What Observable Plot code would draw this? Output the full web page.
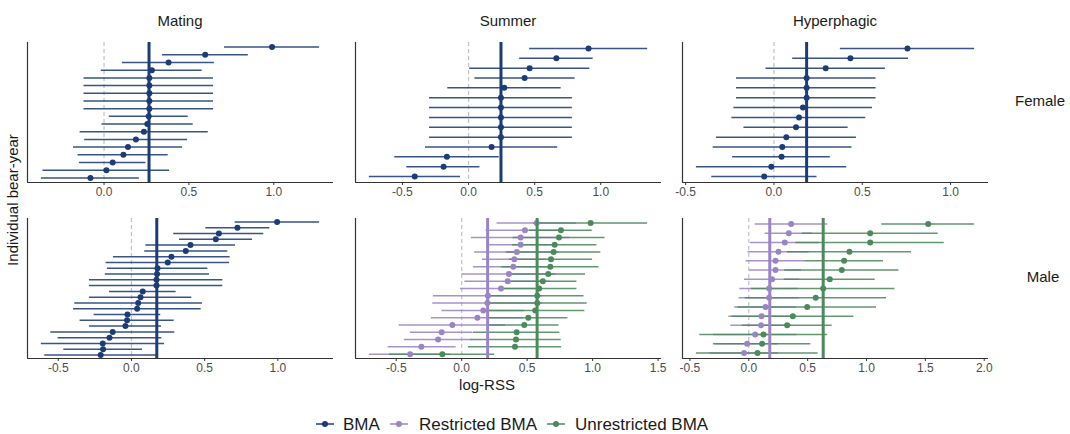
<!DOCTYPE html>
<html><head><meta charset="utf-8">
<script src="https://cdn.jsdelivr.net/npm/d3@7"></script>
<script src="https://cdn.jsdelivr.net/npm/@observablehq/plot@0.6"></script>
<style>
body{margin:0;background:#fff;font-family:"Liberation Sans",Arial,sans-serif;}
#chart{position:relative;width:1070px;height:434px;overflow:hidden;background:#fff;}
.lab{position:absolute;white-space:nowrap;color:#1a1a1a;line-height:1;}
.panel{position:absolute;}
</style></head><body><div id="chart"></div>
<script>
// ---------- data ----------
const seasons = ["Mating", "Summer", "Hyperphagic"];
const sexes = ["Female", "Male"];
const seriesNames = ["BMA", "Restricted BMA", "Unrestricted BMA"];
const seriesColors = ["#1c3c78", "#9a84c6", "#4b8a5b"];

// Female, BMA
const matingFemaleEst = [0.99, 0.596, 0.38, 0.282, 0.267, 0.267, 0.267, 0.267, 0.267, 0.263, 0.255, 0.235, 0.188, 0.141, 0.114, 0.051, 0.014, -0.08];
const matingFemaleLo  = [0.71, 0.345, 0.108, -0.016, -0.118, -0.118, -0.118, -0.118, -0.118, 0.031, -0.012, -0.141, -0.114, -0.18, -0.153, -0.145, -0.36, -0.369];
const matingFemaleHi  = [1.27, 0.85, 0.65, 0.578, 0.645, 0.645, 0.645, 0.645, 0.645, 0.496, 0.525, 0.614, 0.492, 0.463, 0.378, 0.247, 0.386, 0.208];
const matingFemaleMean = 0.265;

const summerFemaleEst = [0.907, 0.664, 0.462, 0.424, 0.27, 0.245, 0.245, 0.245, 0.245, 0.245, 0.174, -0.164, -0.189, -0.407];
const summerFemaleLo  = [0.462, 0.386, 0.008, 0.048, -0.157, -0.295, -0.295, -0.295, -0.295, -0.295, -0.326, -0.558, -0.467, -0.75];
const summerFemaleHi  = [1.354, 0.942, 0.917, 0.806, 0.70, 0.785, 0.785, 0.785, 0.785, 0.785, 0.674, 0.232, 0.086, -0.061];
const summerFemaleMean = 0.245;

const hyperFemaleEst = [0.756, 0.433, 0.293, 0.185, 0.185, 0.185, 0.164, 0.142, 0.125, 0.07, 0.047, 0.043, -0.015, -0.055];
const hyperFemaleLo  = [0.376, 0.106, -0.045, -0.212, -0.212, -0.212, -0.227, -0.238, -0.17, -0.325, -0.344, -0.234, -0.439, -0.352];
const hyperFemaleHi  = [1.136, 0.762, 0.631, 0.578, 0.578, 0.578, 0.558, 0.52, 0.42, 0.467, 0.442, 0.319, 0.412, 0.244];
const hyperFemaleMean = 0.185;

// Male, BMA (mating)
const matingMaleEst = [0.995, 0.724, 0.597, 0.576, 0.403, 0.371, 0.273, 0.248, 0.178, 0.175, 0.171, 0.171, 0.077, 0.062, 0.046, 0.039, -0.027, -0.03, -0.041, -0.128, -0.15, -0.196, -0.194, -0.21];
const matingMaleLo  = [0.708, 0.508, 0.289, 0.328, 0.098, 0.091, -0.123, -0.173, -0.164, -0.178, -0.287, -0.287, -0.15, -0.287, -0.387, -0.396, -0.255, -0.351, -0.287, -0.551, -0.501, -0.615, -0.462, -0.592];
const matingMaleHi  = [1.285, 0.945, 0.904, 0.827, 0.711, 0.658, 0.674, 0.67, 0.522, 0.533, 0.624, 0.624, 0.305, 0.412, 0.485, 0.476, 0.2, 0.292, 0.205, 0.296, 0.207, 0.226, 0.075, 0.171];
const matingMaleMean = 0.173;

// Male, summer: restricted / unrestricted
const summerMaleRestEst = [0.573, 0.483, 0.45, 0.45, 0.422, 0.402, 0.394, 0.361, 0.351, 0.30, 0.2, 0.196, 0.165, 0.12, -0.071, -0.153, -0.18, -0.308, -0.394];
const summerMaleRestLo  = [0.27, 0.186, 0.074, 0.204, 0.099, 0.158, 0.089, 0.003, 0.025, -0.01, -0.216, -0.221, -0.15, -0.232, -0.478, -0.392, -0.438, -0.562, -0.705];
const summerMaleRestHi  = [0.876, 0.78, 0.826, 0.696, 0.745, 0.646, 0.699, 0.719, 0.677, 0.61, 0.616, 0.613, 0.48, 0.472, 0.336, 0.086, 0.078, -0.043, -0.083];
const summerMaleUnrEst = [0.985, 0.758, 0.743, 0.71, 0.702, 0.682, 0.677, 0.661, 0.62, 0.592, 0.577, 0.577, 0.562, 0.509, 0.478, 0.42, 0.415, 0.407, -0.148];
const summerMaleUnrLo  = [0.55, 0.519, 0.392, 0.387, 0.341, 0.364, 0.306, 0.376, 0.36, 0.304, 0.22, 0.195, 0.183, 0.207, 0.213, 0.09, 0.07, 0.051, -0.552];
const summerMaleUnrHi  = [1.42, 0.997, 1.094, 1.033, 1.063, 1.0, 1.048, 0.946, 0.88, 0.88, 0.934, 0.959, 0.941, 0.811, 0.743, 0.75, 0.76, 0.763, 0.252];
const summerMaleRestMean = 0.198;
const summerMaleUnrMean = 0.576;

// Male, hyperphagic: restricted / unrestricted
const hyperMaleRestEst = [0.36, 0.34, 0.306, 0.252, 0.227, 0.227, 0.198, 0.173, 0.173, 0.142, 0.108, 0.105, 0.054, -0.014, -0.04];
const hyperMaleRestLo  = [0.054, 0.139, 0.014, -0.008, -0.023, 0.006, -0.037, -0.076, -0.082, -0.12, -0.17, -0.153, -0.3, -0.28, -0.33];
const hyperMaleRestHi  = [0.671, 0.541, 0.598, 0.512, 0.477, 0.448, 0.433, 0.422, 0.428, 0.404, 0.386, 0.363, 0.408, 0.252, 0.25];
const hyperMaleUnrEst = [1.524, 1.031, 1.031, 0.855, 0.81, 0.79, 0.688, 0.632, 0.569, 0.496, 0.374, 0.326, 0.125, 0.113, 0.074];
const hyperMaleUnrLo  = [1.13, 0.453, 0.40, 0.328, 0.476, 0.305, 0.302, 0.023, -0.03, -0.094, -0.144, -0.056, -0.416, -0.3, -0.445];
const hyperMaleUnrHi  = [1.918, 1.609, 1.66, 1.382, 1.144, 1.275, 1.074, 1.241, 1.17, 1.085, 0.892, 0.708, 0.669, 0.527, 0.589];
const hyperMaleRestMean = 0.178;
const hyperMaleUnrMean = 0.632;

// tick values per panel
const ticksMatingFemale = [0, 0.5, 1.0];
const ticksSummerFemale = [-0.5, 0, 0.5, 1.0];
const ticksHyperFemale = [-0.5, 0, 0.5, 1.0];
const ticksMatingMale = [-0.5, 0, 0.5, 1.0];
const ticksSummerMale = [-0.5, 0, 0.5, 1.0, 1.5];
const ticksHyperMale = [-0.5, 0, 0.5, 1.0, 1.5, 2.0];

// ---------- layout ----------
const chart = document.getElementById("chart");
const colLeft = [27, 355, 682];
const rowTop = [42, 218];
const PW = 306, PH = 140;
const mL = 15, mR = 15, mT = 2, mB = 22;

function label(text, x, y, size, rotate, color) {
  const d = document.createElement("div");
  d.className = "lab";
  d.textContent = text;
  d.style.left = x + "px";
  d.style.top = y + "px";
  d.style.fontSize = size + "px";
  if (color) d.style.color = color;
  d.style.transform = "translate(-50%,-50%)" + (rotate ? " rotate(-90deg)" : "");
  chart.appendChild(d);
}

function panel(cfg) {
  const n = cfg.series[0].est.length;
  const data = cfg.series.map(s => s.est.map((e, i) => ({i, est: e, lo: s.lo[i], hi: s.hi[i]})));
  const all = data.flat();
  const lo = d3.min(all, d => d.lo), hi = d3.max(all, d => d.hi);
  const pad = (hi - lo) * 0.05;
  const xd = [lo - pad, hi + pad];
  const yd = [n - 1 + 0.6, -0.6];
  const marks = [Plot.ruleX([0], {stroke: "#c2c2c2", strokeDasharray: "4,3", strokeWidth: 1.2})];
  data.forEach((d, k) => marks.push(Plot.ruleY(d, {y: "i", x1: "lo", x2: "hi", stroke: cfg.series[k].color, strokeWidth: 1.5, strokeOpacity: 0.88})));
  data.forEach((d, k) => marks.push(Plot.dot(d, {x: "est", y: "i", r: 3, fill: cfg.series[k].color})));
  cfg.means.forEach(m => marks.push(Plot.ruleX([m.value], {stroke: m.color, strokeWidth: 3})));
  marks.push(Plot.ruleX([xd[0]], {stroke: "#333", strokeWidth: 1.2}));
  marks.push(Plot.ruleY([yd[0]], {stroke: "#333", strokeWidth: 1.2}));
  marks.push(Plot.axisX({ticks: cfg.ticks, tickFormat: d => d.toFixed(1), tickSize: 3, tickPadding: 2, stroke: "#333", fill: "#4d4d4d"}));
  const svg = Plot.plot({
    width: PW + mL + mR, height: PH + mT + mB,
    marginLeft: mL, marginRight: mR, marginTop: mT, marginBottom: mB,
    x: {domain: xd},
    y: {type: "linear", domain: yd, axis: null},
    style: {fontFamily: "'Liberation Sans', Arial, sans-serif", fontSize: "12px", background: "transparent"},
    marks
  });
  const wrap = document.createElement("div");
  wrap.className = "panel";
  wrap.style.left = (colLeft[cfg.col] - mL) + "px";
  wrap.style.top = (rowTop[cfg.row] - mT) + "px";
  wrap.appendChild(svg);
  chart.appendChild(wrap);
}

const C = seriesColors;
panel({col: 0, row: 0, ticks: ticksMatingFemale,
  series: [{est: matingFemaleEst, lo: matingFemaleLo, hi: matingFemaleHi, color: C[0]}],
  means: [{value: matingFemaleMean, color: C[0]}]});
panel({col: 1, row: 0, ticks: ticksSummerFemale,
  series: [{est: summerFemaleEst, lo: summerFemaleLo, hi: summerFemaleHi, color: C[0]}],
  means: [{value: summerFemaleMean, color: C[0]}]});
panel({col: 2, row: 0, ticks: ticksHyperFemale,
  series: [{est: hyperFemaleEst, lo: hyperFemaleLo, hi: hyperFemaleHi, color: C[0]}],
  means: [{value: hyperFemaleMean, color: C[0]}]});
panel({col: 0, row: 1, ticks: ticksMatingMale,
  series: [{est: matingMaleEst, lo: matingMaleLo, hi: matingMaleHi, color: C[0]}],
  means: [{value: matingMaleMean, color: C[0]}]});
panel({col: 1, row: 1, ticks: ticksSummerMale,
  series: [{est: summerMaleRestEst, lo: summerMaleRestLo, hi: summerMaleRestHi, color: C[1]},
           {est: summerMaleUnrEst, lo: summerMaleUnrLo, hi: summerMaleUnrHi, color: C[2]}],
  means: [{value: summerMaleRestMean, color: C[1]}, {value: summerMaleUnrMean, color: C[2]}]});
panel({col: 2, row: 1, ticks: ticksHyperMale,
  series: [{est: hyperMaleRestEst, lo: hyperMaleRestLo, hi: hyperMaleRestHi, color: C[1]},
           {est: hyperMaleUnrEst, lo: hyperMaleUnrLo, hi: hyperMaleUnrHi, color: C[2]}],
  means: [{value: hyperMaleRestMean, color: C[1]}, {value: hyperMaleUnrMean, color: C[2]}]});

// strip labels & titles
seasons.forEach((s, i) => label(s, colLeft[i] + PW / 2, 20, 15));
label(sexes[0], 1040, 100, 15);
label(sexes[1], 1043, 276, 15);
label("Individual bear-year", 12, 200, 15, true);
label("log-RSS", 487, 384, 15);

// legend
const legendSwatchX = [316, 390, 547];
const legendTextX = [343, 419, 575];
seriesNames.forEach((name, k) => {
  const sw = document.createElementNS("http://www.w3.org/2000/svg", "svg");
  sw.setAttribute("width", 18); sw.setAttribute("height", 12);
  sw.style.position = "absolute"; sw.style.left = legendSwatchX[k] + "px"; sw.style.top = "418px";
  sw.innerHTML = `<line x1="0" x2="18" y1="6" y2="6" stroke="${C[k]}" stroke-width="1.5"/><circle cx="9" cy="6" r="3" fill="${C[k]}"/>`;
  chart.appendChild(sw);
  const d = document.createElement("div");
  d.className = "lab";
  d.textContent = name;
  d.style.left = legendTextX[k] + "px";
  d.style.top = "424px";
  d.style.fontSize = "17px";
  d.style.transform = "translate(0,-50%)";
  chart.appendChild(d);
});
</script></body></html>
